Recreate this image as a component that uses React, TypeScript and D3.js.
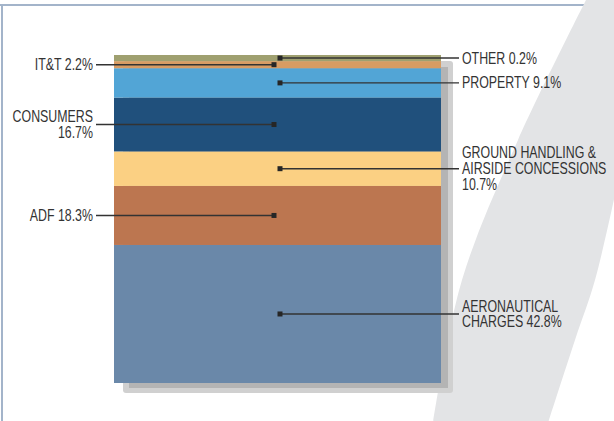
import React from "react";
import * as d3 from "d3";

// ---- data (bottom to top) ----
const categories = [
  "AERONAUTICAL CHARGES",
  "ADF",
  "GROUND HANDLING & AIRSIDE CONCESSIONS",
  "CONSUMERS",
  "PROPERTY",
  "IT&T",
  "OTHER",
];
const shares = [42.8, 18.3, 10.7, 16.7, 9.1, 2.2, 0.2];
const labelLines = [
  ["AERONAUTICAL", "CHARGES 42.8%"],
  ["ADF 18.3%"],
  ["GROUND HANDLING &", "AIRSIDE CONCESSIONS", "10.7%"],
  ["CONSUMERS", "16.7%"],
  ["PROPERTY 9.1%"],
  ["IT&T 2.2%"],
  ["OTHER 0.2%"],
];
const labelSide = ["right", "left", "right", "left", "right", "left", "right"];
const colors = ["#6a88a9", "#bc7650", "#fbd083", "#20507c", "#52a5d6", "#d89c63", "#9fa070"];

const W = 614;
const H = 421;
const MIN_VISIBLE = 1.9; // smallest share drawn so that tiny slices stay visible

export default function App() {
  const bx0 = 114, bx1 = 441, by0 = 55, by1 = 383;
  const shown = shares.map((v) => Math.max(v, MIN_VISIBLE));
  const total = d3.sum(shown);
  const y = d3.scaleLinear().domain([0, total]).range([by1, by0]);
  const cum = d3.cumsum(shown);
  const segs = shown.map((v, i) => ({
    i,
    y0: y(cum[i] - v),
    y1: y(cum[i]),
  }));
  const cx = (bx0 + bx1) / 2;

  const swoosh = d3.line().curve(d3.curveCatmullRom.alpha(0.5));
  const leftEdge: [number, number][] = [[587, -2], [518, 140], [462, 280], [433, 423]];
  const rightEdge: [number, number][] = [[548, 423], [575, 340], [595, 280], [616, 190]];
  const swooshPath =
    swoosh(leftEdge)! + "L" + swoosh(rightEdge)!.slice(1) + "L616,-2Z";

  const font = "'Liberation Sans', Arial, sans-serif";
  const fs = 16.5;
  const sx = 0.75;
  const lh = 15.7;

  return (
    <svg
      width={W}
      height={H}
      style={{ position: "absolute", left: 0, top: 0, background: "#fff" }}
    >
      {/* frame */}
      <line x1={0} x2={W} y1={5} y2={5} stroke="#a3b4ca" strokeWidth={2} />
      <line x1={2} x2={2} y1={4} y2={H} stroke="#a3b4ca" strokeWidth={2} />
      {/* background swoosh */}
      <path d={swooshPath} fill="#e3e4e6" />
      {/* shadow */}
      <rect x={bx0 + 9} y={by0 + 6} width={bx1 - bx0 + 3} height={by1 - by0 + 4} rx={3} fill="#d0d0d0" />
      <rect x={bx0 + 15} y={by0 + 12} width={bx1 - bx0 - 8} height={by1 - by0 - 7} fill="#b4b4b4" />
      {/* bar segments */}
      {segs.map((s) => (
        <rect
          key={categories[s.i]}
          x={bx0}
          y={s.y1}
          width={bx1 - bx0}
          height={s.y0 - s.y1}
          fill={colors[s.i]}
        />
      ))}
      {/* leaders and labels */}
      {segs.map((s) => {
        const ly = (s.y0 + s.y1) / 2;
        const right = labelSide[s.i] === "right";
        const mx = right ? cx + 2.5 : cx - 3.5;
        const lineEnd = right ? 459 : 96;
        const tx = right ? 462 : 93;
        const lines = labelLines[s.i];
        const firstBase = ly - ((lines.length - 1) * lh) / 2 + 5.5;
        return (
          <g key={"l" + s.i}>
            <line x1={mx} x2={lineEnd} y1={ly} y2={ly} stroke="#333" strokeWidth={1.4} />
            <rect x={mx - 2.5} y={ly - 2.5} width={5} height={5} fill="#262626" />
            <g transform={`translate(${tx},0) scale(${sx},1)`}>
              <text
                x={0}
                y={firstBase}
                textAnchor={right ? "start" : "end"}
                fontFamily={font}
                fontSize={fs}
                fill="#333"
              >
                {lines.map((t, k) => (
                  <tspan key={k} x={0} dy={k === 0 ? 0 : lh}>
                    {t}
                  </tspan>
                ))}
              </text>
            </g>
          </g>
        );
      })}
    </svg>
  );
}
